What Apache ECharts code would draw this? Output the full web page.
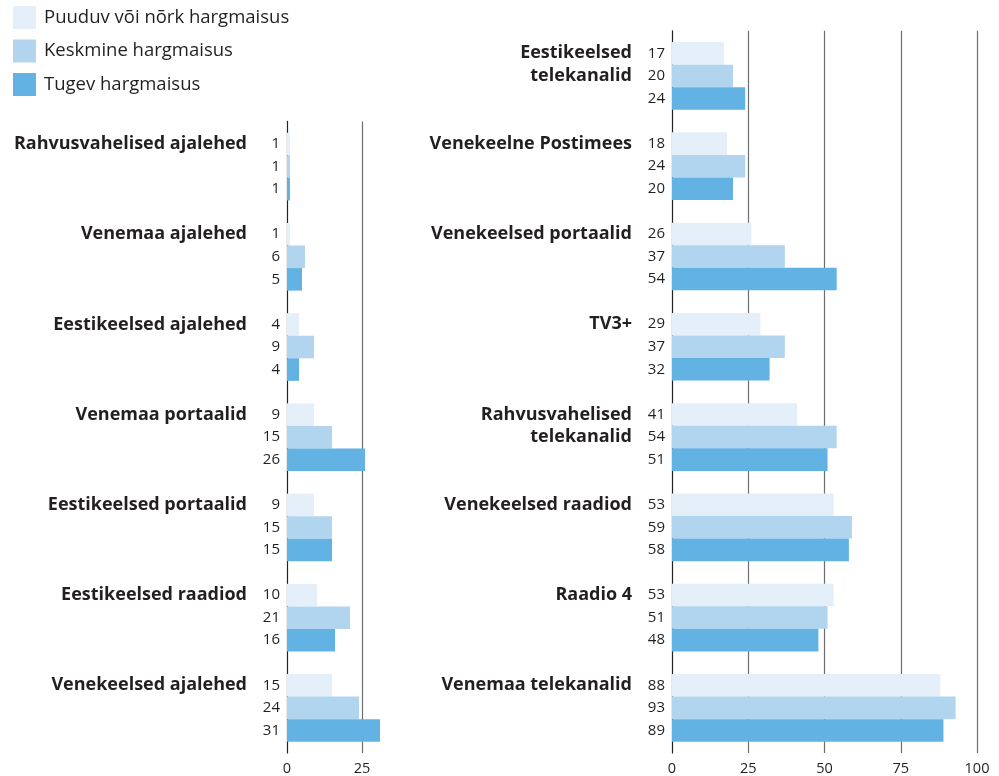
<!DOCTYPE html>
<html><head><meta charset="utf-8">
<script src="https://cdn.jsdelivr.net/npm/echarts@6/dist/echarts.min.js"></script>
<style>html,body{margin:0;padding:0;background:#fff}#c{width:999px;height:776px}</style>
</head><body><div id="c"></div>
<script>
const seriesNames = ['Puuduv või nõrk hargmaisus', 'Keskmine hargmaisus', 'Tugev hargmaisus'];
const colors = ['#e4eff9', '#b1d5ef', '#62b3e3'];

const leftCategories = ['Rahvusvahelised ajalehed', 'Venemaa ajalehed', 'Eestikeelsed ajalehed', 'Venemaa portaalid', 'Eestikeelsed portaalid', 'Eestikeelsed raadiod', 'Venekeelsed ajalehed'];
const leftWeak = [1, 1, 4, 9, 9, 10, 15];
const leftMedium = [1, 6, 9, 15, 15, 21, 24];
const leftStrong = [1, 5, 4, 26, 15, 16, 31];

const rightCategories = ['Eestikeelsed\ntelekanalid', 'Venekeelne Postimees', 'Venekeelsed portaalid', 'TV3+', 'Rahvusvahelised\ntelekanalid', 'Venekeelsed raadiod', 'Raadio 4', 'Venemaa telekanalid'];
const rightWeak = [17, 18, 26, 29, 41, 53, 53, 88];
const rightMedium = [20, 24, 37, 37, 54, 59, 51, 93];
const rightStrong = [24, 20, 54, 32, 51, 58, 48, 89];

const leftTicks = [0, 25];
const rightTicks = [0, 25, 50, 75, 100];

const FONT = 'Open Sans';
const chart = echarts.init(document.getElementById('c'), null, {renderer: 'canvas'});

function catLabel(v) {
  const n = v.split('\n').length;
  return v + (n === 1 ? '\n \n ' : '\n ');
}

function yAxis(gridIndex, data) {
  return {
    type: 'category', gridIndex, data, inverse: true,
    axisLine: {show: true, lineStyle: {color: '#222', width: 1.2}},
    axisTick: {show: false},
    axisLabel: {
      formatter: catLabel, margin: 40, fontFamily: FONT, fontWeight: 'bold',
      fontSize: 18, color: '#231f20', lineHeight: 22.6, align: 'right', verticalAlign: 'middle'
    }
  };
}

function xAxis(gridIndex, max, ticks) {
  return {
    type: 'value', gridIndex, min: 0, max, interval: 25,
    axisLine: {show: false}, axisTick: {show: false},
    splitLine: {show: true, showMinLine: false, showMaxLine: max === ticks[ticks.length - 1], lineStyle: {color: '#6d6e71', width: 1.2}},
    axisLabel: {
      margin: 8, fontFamily: FONT, fontSize: 14.5, color: '#231f20',
      showMaxLabel: max === ticks[ticks.length - 1],
      formatter: v => ticks.indexOf(v) >= 0 ? String(v) : ''
    }
  };
}

function barSeries(name, i, axisIdx, data) {
  return {
    name, type: 'bar', xAxisIndex: axisIdx, yAxisIndex: axisIdx, data,
    barGap: '0%', barCategoryGap: '25%',
    itemStyle: {color: colors[i]},
    label: {show: true, position: 'left', distance: 7, fontFamily: FONT, fontSize: 15, color: '#231f20'},
    emphasis: {disabled: true},
    z: 1
  };
}

const BAND = 90.65;
chart.setOption({
  animation: false,
  textStyle: {fontFamily: FONT},
  legend: {
    orient: 'vertical', left: 8, top: 1, itemWidth: 23, itemHeight: 23, itemGap: 10.5,
    icon: 'rect', data: seriesNames,
    textStyle: {fontFamily: FONT, fontSize: 18.5, color: '#231f20', padding: [0, 0, 0, 3]}
  },
  grid: [
    {left: 287, width: 96, top: 756 - 7 * BAND, height: 7 * BAND},
    {left: 672, width: 305, top: 756 - 8 * BAND, height: 8 * BAND}
  ],
  xAxis: [xAxis(0, 32, leftTicks), xAxis(1, 100, rightTicks)],
  yAxis: [yAxis(0, leftCategories), yAxis(1, rightCategories)],
  series: [
    barSeries(seriesNames[0], 0, 0, leftWeak),
    barSeries(seriesNames[1], 1, 0, leftMedium),
    barSeries(seriesNames[2], 2, 0, leftStrong),
    barSeries(seriesNames[0], 0, 1, rightWeak),
    barSeries(seriesNames[1], 1, 1, rightMedium),
    barSeries(seriesNames[2], 2, 1, rightStrong)
  ]
});
</script></body></html>
